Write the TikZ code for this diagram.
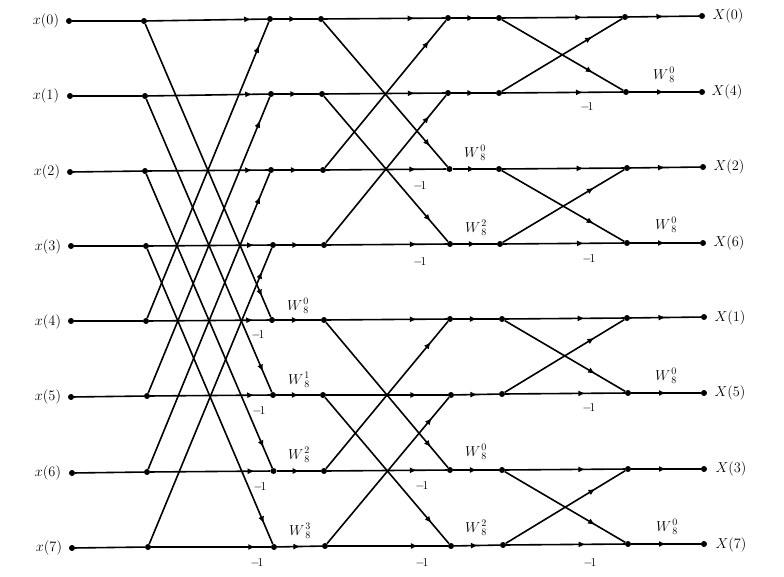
\documentclass[tikz,border=0pt]{standalone}
\usetikzlibrary{arrows.meta,decorations.markings}
\tikzset{
  dot/.style={circle,fill=black,inner sep=0pt,minimum size=6pt},
  wire/.style={line width=1.6pt,black},
  flow/.style={wire,postaction={decorate},decoration={markings,mark=at position #1 with {\arrow{Latex[length=7pt,width=6pt]}}}},
  inlabel/.style={font=\fontsize{15}{17}\selectfont,inner sep=0pt},
  twiddle/.style={font=\fontsize{14}{16}\selectfont,inner sep=0pt},
  neg/.style={font=\fontsize{12}{14}\selectfont,inner sep=0pt}
}
\begin{document}
\begin{tikzpicture}[x=1pt,y=-1pt]
\useasboundingbox (0,0) rectangle (784,576);
% signal-flow nodes
\foreach \n/\x/\y in {a0/69/21,a1/70/96,a2/70/172,a3/71/246,a4/71/321,a5/71/397,a6/72/473,a7/72/548,
  b0/144/21,b1/145/96,b2/145/171,b3/146/246,b4/146/321,b5/147/396,b6/147/472,b7/148/547,
  c0/270/19,c1/271/94,c2/271/170,c3/273/245,c4/272/320,c5/273/395,c6/273.5/471,c7/274/547,
  d0/321/19,d1/322/94,d2/323/170,d3/324/245,d4/324/320,d5/323/395,d6/324/471,d7/325/546,
  e0/448/18,e1/448/93,e2/449.5/169,e3/450/244,e4/450/319,e5/451/395,e6/450/470,e7/451/546,
  f0/499/18,f1/499/93,f2/499/169,f3/500/244,f4/502/319,f5/502/394,f6/502/470,f7/503/545,
  g0/625/17,g1/626/92,g2/627/168,g3/627/243,g4/627/318,g5/628/393,g6/628/469,g7/628/544,
  h0/702/16,h1/702/92,h2/703/167,h3/703/243,h4/704/317,h5/704/393,h6/704/469,h7/704/544}
  {\node[dot] (\n) at (\x,\y) {};}
% horizontal wires
\foreach \i in {0,...,7}{
  \draw[wire] (a\i) -- (b\i);
  \draw[flow=.87] (b\i) -- (c\i);
  \draw[flow=.52] (c\i) -- (d\i);
  \draw[flow=.75] (d\i) -- (e\i);
  \draw[flow=.52] (e\i) -- (f\i);
  \draw[flow=.67] (f\i) -- (g\i);
  \draw[flow=.5] (g\i) -- (h\i);
}
% first stage
\foreach \p/\q in {0/4,1/5,2/6,3/7}{
  \draw[flow=.93] (b\p) -- (c\q);
  \draw[flow=.92] (b\q) -- (c\p);
}
% second stage
\foreach \p/\q in {0/2,1/3,4/6,5/7}{
  \draw[flow=.86] (d\p) -- (e\q);
  \draw[flow=.86] (d\q) -- (e\p);
}
% third stage
\foreach \p/\q in {0/1,2/3,4/5,6/7}{
  \draw[flow=.75] (f\p) -- (g\q);
  \draw[flow=.75] (f\q) -- (g\p);
}
% inputs
\foreach \n/\t/\x/\y in {li0/0/46/21,li1/1/46/96,li2/2/47/172,li3/3/48/247,li4/4/48/322,li5/5/48/397,li6/6/48/473,li7/7/49/548}
  {\node[inlabel] (\n) at (\x,\y) {$x(\t)$};}
% outputs
\foreach \n/\t/\x/\y in {lo0/0/728/16,lo1/4/727/92,lo2/2/729/167,lo3/6/729/243,lo4/1/730/318,lo5/5/730/393,lo6/3/731/469,lo7/7/731/545}
  {\node[inlabel] (\n) at (\x,\y) {$X(\t)$};}
% twiddle factors
\foreach \n/\t/\x/\y in {wa/0/298/306,wb/1/299/380,wc/2/299/455,wd/3/300/531,
  we/0/475/153,wf/2/476/228,wg/0/476/452,wh/2/476/528,
  wi/0/664/75,wj/0/666/225,wk/0/666/376,wl/0/667/527}
  {\node[twiddle] (\n) at (\x,\y) {${W}\kern1pt{}_8^{\t}$};}
% minus ones
\foreach \n/\x/\y in {ma/258/335,mb/259/411,mc/260/487,md/257/563,
  me/420/186,mf/420/262,mg/422/486,mh/422/563,
  mi/587/107,mj/589/259,mk/589/408,ml/590/563}
  {\node[neg] (\n) at (\x,\y) {$-\!1$};}
\end{tikzpicture}
\end{document}
